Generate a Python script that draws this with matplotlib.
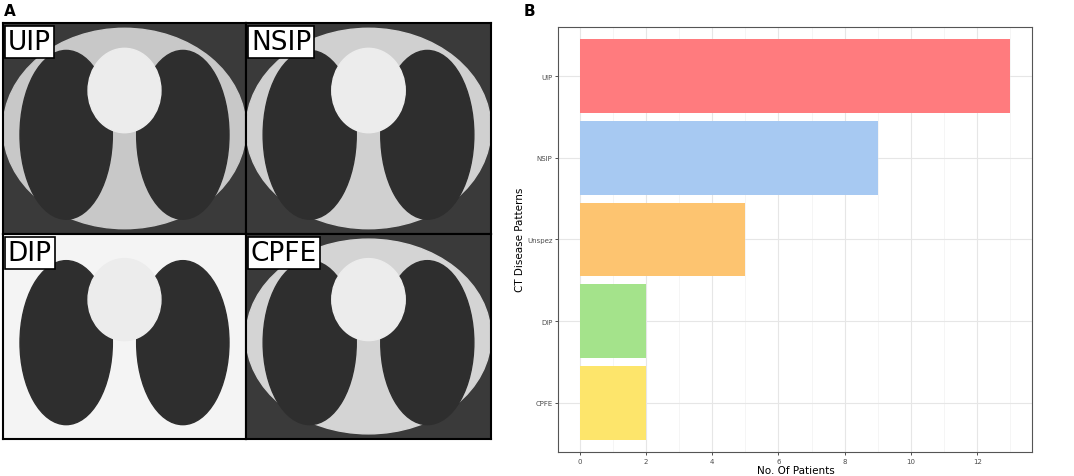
import matplotlib.pyplot as plt
from matplotlib.patches import Ellipse

# panel B data
patterns = ["UIP", "NSIP", "Unspez", "DIP", "CPFE"]
patients = [13, 9, 5, 2, 2]
colors = ["#FF7B7E", "#A7C9F2", "#FDC470", "#A4E38B", "#FDE56B"]

# panel A labels
ct_labels = ["UIP", "NSIP", "DIP", "CPFE"]
ct_bg = ["#c8c8c8", "#d0d0d0", "#f4f4f4", "#d4d4d4"]

fig = plt.figure(figsize=(10.74, 4.77), dpi=100)
W, H = 1074, 477


def px_axes(x0, y0, x1, y1):
    return fig.add_axes([x0 / W, 1 - y1 / H, (x1 - x0) / W, (y1 - y0) / H])


# ---- panel A: placeholder CT tiles
fig.text(10 / W, 1 - 12 / H, "A", fontsize=11, fontweight="bold", va="center", ha="center")
tiles = [(3, 24, 246, 235), (246, 24, 491, 235), (3, 235, 246, 440), (246, 235, 491, 440)]
for (x0, y0, x1, y1), lab, bg in zip(tiles, ct_labels, ct_bg):
    ax = px_axes(x0, y0, x1, y1)
    ax.set_xlim(0, 1)
    ax.set_ylim(0, 1)
    ax.set_facecolor("#3a3a3a" if bg != "#f4f4f4" else "#f4f4f4")
    ax.add_patch(Ellipse((0.5, 0.5), 1.0, 0.95, color=bg))
    ax.add_patch(Ellipse((0.26, 0.47), 0.38, 0.8, color="#2e2e2e"))
    ax.add_patch(Ellipse((0.74, 0.47), 0.38, 0.8, color="#2e2e2e"))
    ax.add_patch(Ellipse((0.5, 0.68), 0.3, 0.4, color="#ececec"))
    ax.text(0.02, 0.97, lab, transform=ax.transAxes, fontsize=19, va="top", ha="left",
            bbox=dict(facecolor="white", edgecolor="black", linewidth=1.2, pad=2))
    ax.set_xticks([])
    ax.set_yticks([])
    for s in ax.spines.values():
        s.set_linewidth(1.5)

# ---- panel B: bar chart
fig.text(529 / W, 1 - 11 / H, "B", fontsize=11, fontweight="bold", va="center", ha="center")
ax = px_axes(558, 28, 1032, 453)
y = list(range(len(patterns)))[::-1]
ax.barh(y, patients, height=0.9, color=colors, zorder=2)
ax.set_xlim(-0.65, 13.65)
ax.set_ylim(-0.6, 4.6)
ax.set_yticks(y)
ax.set_yticklabels(patterns)
ax.set_xticks(range(0, 13, 2))
ax.set_xticks(range(1, 14, 2), minor=True)
ax.grid(True, which="major", color="#e6e6e6", linewidth=0.8, zorder=0)
ax.grid(True, which="minor", axis="x", color="#f2f2f2", linewidth=0.5, zorder=0)
ax.tick_params(axis="both", which="major", labelsize=5, labelcolor="#4d4d4d",
               color="#333333", length=2.5, width=0.6, pad=1.5)
ax.tick_params(which="minor", length=0)
for s in ax.spines.values():
    s.set_color("#555555")
    s.set_linewidth(0.8)

# axis titles placed by pixel to fit the tight margins
fig.text(796 / W, 1 - 471 / H, "No. Of Patients", fontsize=7.5, ha="center", va="center")
fig.text(520 / W, 1 - 240 / H, "CT Disease Patterns", fontsize=7.5, ha="center",
         va="center", rotation=90)

fig.savefig("out.png", dpi=100)
